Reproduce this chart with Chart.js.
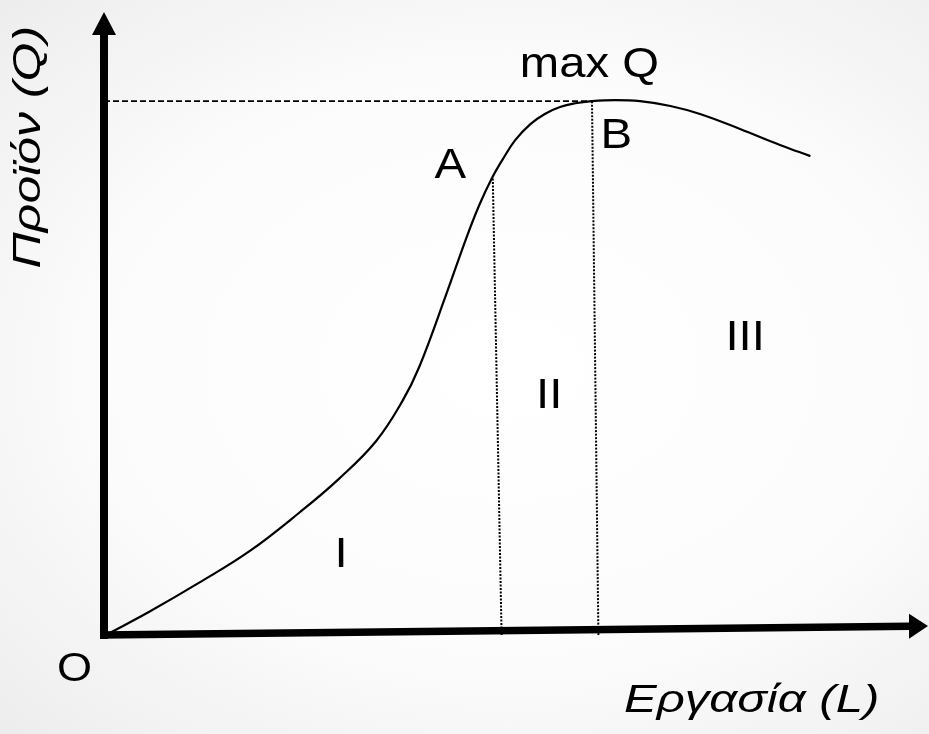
<!DOCTYPE html>
<html>
<head>
<meta charset="utf-8">
<script src="https://cdn.jsdelivr.net/npm/chart.js@4"></script>
<style>
    html, body {
        margin: 0;
        padding: 0;
        width: 929px;
        height: 734px;
        overflow: hidden;
        background: radial-gradient(ellipse at 55% 50%, #ffffff 0%, #fcfcfc 55%, #ededed 100%);
    }
    canvas { display: block; }
</style>
</head>
<body>
<canvas id="productChart" width="929" height="734"></canvas>
<script>
// ===================== DATA =====================

// Total product curve: labour (L) against output (Q)
const labourL = [0.05, 0.56, 1.19, 1.81, 2.44, 2.94, 3.40, 3.73, 3.94, 4.28, 4.53, 4.69, 4.85,
                 4.98, 5.14, 5.33, 5.51, 5.70, 5.89, 6.10, 6.39, 6.70, 7.08, 7.45, 7.95, 8.45, 8.83];
const outputQ = [0.02, 0.43, 0.98, 1.56, 2.29, 2.93, 3.63, 4.38, 5.02, 6.39, 7.44, 8.05, 8.56,
                 8.90, 9.27, 9.57, 9.76, 9.89, 9.96, 10.0, 10.02, 10.0, 9.91, 9.76, 9.48, 9.18, 8.97];

// Max output level and the stage boundaries (point A and point B)
const maxQ = 10;
const pointA = { L: 4.86, Q: 8.55 };
const pointB = { L: 6.10, Q: 10 };
const boundaryFootL = [4.97, 6.18];   // where the dotted lines meet the L axis

// Axis ranges
const xMax = 10.3;
const yMax = 11.67;

// Text labels, placed in data coordinates
const stageLabels = ['I', 'II', 'III'];
const stageL = [2.96, 5.56, 8.01];
const stageQ = [1.27, 4.25, 5.34];

// ===================== CHART =====================

const font = '"Liberation Sans", Arial, sans-serif';
const labels = [
    { text: 'max Q', x: 6.07, y: 10.45, size: 42, width: 135 },
    { text: 'A', x: 4.33, y: 8.56, size: 42, stretch: 1.13 },
    { text: 'B', x: 6.41, y: 9.12, size: 42, stretch: 1.13 },
    { text: 'O', x: -0.375, y: -0.86, size: 41, stretch: 1.1 },
    { text: 'Εργασία (L)', x: 8.09, y: -1.44, size: 38, width: 252, italic: true },
    { text: 'Προϊόν (Q)', x: -0.8, y: 9.13, size: 38, width: 239, italic: true, rotate: -Math.PI / 2 }
];
stageLabels.forEach((t, i) => {
    labels.push({ text: t, x: stageL[i], y: stageQ[i], size: 42, stretch: 1.13 });
});

function drawLabel(ctx, a, xs, ys) {
    ctx.save();
    ctx.translate(xs.getPixelForValue(a.x), ys.getPixelForValue(a.y));
    if (a.rotate) ctx.rotate(a.rotate);
    ctx.font = (a.italic ? 'italic ' : '') + a.size + 'px ' + font;
    ctx.textAlign = 'left';
    ctx.textBaseline = 'alphabetic';
    const m = ctx.measureText(a.text);
    const ink = m.actualBoundingBoxLeft + m.actualBoundingBoxRight;
    const sx = a.width ? a.width / ink : (a.stretch || 1);
    ctx.scale(sx, 1);
    ctx.fillStyle = '#000000';
    ctx.fillText(a.text, -(m.actualBoundingBoxRight - m.actualBoundingBoxLeft) / 2, 0);
    ctx.restore();
}

// Thick black axes with arrow heads, plus the text
const axesPlugin = {
    id: 'axesPlugin',
    afterDraw(chart) {
        const ctx = chart.ctx;
        const xs = chart.scales.x;
        const ys = chart.scales.y;
        const ox = xs.getPixelForValue(0);
        const oy = ys.getPixelForValue(0);
        ctx.save();
        ctx.fillStyle = '#000000';
        ctx.strokeStyle = '#000000';

        // vertical axis
        const yTip = ys.getPixelForValue(yMax);
        ctx.fillRect(ox - 4, yTip + 22, 8, oy - yTip - 22 + 4);
        ctx.beginPath();
        ctx.moveTo(ox - 12, yTip + 23);
        ctx.lineTo(ox + 12, yTip + 23);
        ctx.lineTo(ox, yTip);
        ctx.closePath();
        ctx.fill();

        // horizontal axis (slightly tilted, as in the sketch)
        const xTip = xs.getPixelForValue(xMax);
        const tipY = ys.getPixelForValue(0.17);
        const baseX = xTip - 19;
        const baseY = oy + (tipY - oy) * (baseX - ox) / (xTip - ox);
        ctx.lineWidth = 7.5;
        ctx.lineCap = 'butt';
        ctx.beginPath();
        ctx.moveTo(ox - 4, oy);
        ctx.lineTo(baseX + 1, baseY);
        ctx.stroke();
        ctx.beginPath();
        ctx.moveTo(baseX, baseY - 12.5);
        ctx.lineTo(baseX, baseY + 12.5);
        ctx.lineTo(xTip, tipY);
        ctx.closePath();
        ctx.fill();
        ctx.restore();

        labels.forEach(a => drawLabel(ctx, a, xs, ys));
    }
};

const productCtx = document.getElementById('productChart');
new Chart(productCtx, {
    type: 'scatter',
    data: {
        datasets: [
            {
                label: 'Total product',
                data: labourL.map((l, i) => ({ x: l, y: outputQ[i] })),
                showLine: true,
                borderColor: '#000000',
                borderWidth: 2.2,
                pointRadius: 0,
                tension: 0.4
            },
            {
                label: 'max Q',
                data: [{ x: 0, y: maxQ }, { x: pointB.L, y: maxQ }],
                showLine: true,
                borderColor: '#000000',
                borderWidth: 1.6,
                borderDash: [6, 3],
                pointRadius: 0
            },
            {
                label: 'A',
                data: [{ x: pointA.L, y: pointA.Q }, { x: boundaryFootL[0], y: 0 }],
                showLine: true,
                borderColor: '#000000',
                borderWidth: 2,
                borderDash: [2, 1.5],
                pointRadius: 0
            },
            {
                label: 'B',
                data: [{ x: pointB.L, y: pointB.Q }, { x: boundaryFootL[1], y: 0 }],
                showLine: true,
                borderColor: '#000000',
                borderWidth: 2,
                borderDash: [2, 1.5],
                pointRadius: 0
            }
        ]
    },
    options: {
        responsive: false,
        animation: false,
        layout: {
            padding: { left: 104, top: 12, right: 1, bottom: 99 }
        },
        plugins: {
            legend: { display: false },
            tooltip: { enabled: false }
        },
        scales: {
            x: { type: 'linear', min: 0, max: xMax, display: false },
            y: { type: 'linear', min: 0, max: yMax, display: false }
        }
    },
    plugins: [axesPlugin]
});
</script>
</body>
</html>
